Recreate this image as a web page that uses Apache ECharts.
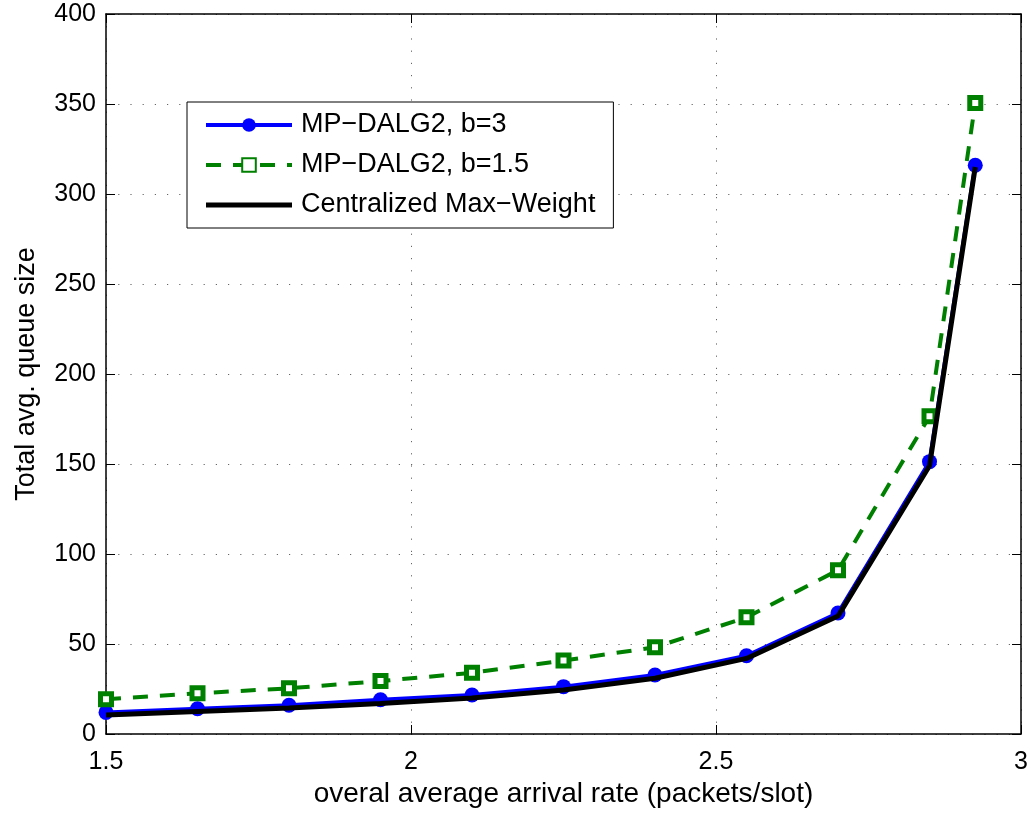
<!DOCTYPE html>
<html>
<head>
<meta charset="utf-8">
<script src="https://cdn.jsdelivr.net/npm/echarts@6/dist/echarts.min.js"></script>
<style>
html,body{margin:0;padding:0;background:#fff;}
#chart{width:1031px;height:814px;}
</style>
</head>
<body>
<div id="chart"></div>
<script>
var xValues = [1.5, 1.65, 1.8, 1.95, 2.1, 2.25, 2.4, 2.55, 2.7, 2.85, 2.925];
var dalgB3 = [12, 14, 16, 19, 21.7, 26.3, 32.8, 43.5, 67.2, 151.3, 316];
var dalgB15 = [19.3, 22.6, 25.4, 29.4, 34, 40.8, 48.2, 64.8, 91, 176.5, 350.5];
var maxWeight = [10.5, 12.5, 14.5, 17, 20, 24.5, 31, 42, 65.5, 149, 315];
var seriesNames = ['MP\u2212DALG2, b=3', 'MP\u2212DALG2, b=1.5', 'Centralized Max\u2212Weight'];
var xAxisTitle = 'overal average arrival rate (packets/slot)';
var yAxisTitle = 'Total avg. queue size';

function pairs(xs, ys) { return xs.map(function (x, i) { return [x, ys[i]]; }); }

var font = 'Liberation Sans, Arial, Helvetica, sans-serif';
var chart = echarts.init(document.getElementById('chart'), null, {renderer: 'canvas'});
var gridLine = {show: true, lineStyle: {color: '#666', width: 1, type: [1.2, 11]}};
var axisLineStyle = {show: true, onZero: false, lineStyle: {color: '#000', width: 1.5}};
var tick = {show: true, inside: true, length: 9, lineStyle: {color: '#000', width: 1}};
// plain thick line icon (thin invisible slivers at top/bottom keep the bar centred)
var blackLineIcon = 'path://M0,0L86,0L86,0.01L0,0.01Z M0,6H86V11H0Z M0,16.99L86,16.99L86,17L0,17Z';

chart.setOption({
  animation: false,
  backgroundColor: '#fff',
  grid: {left: 106, right: 10, top: 14, bottom: 80, containLabel: false},
  legend: {
    left: 187, top: 102,
    orient: 'vertical',
    backgroundColor: '#fff',
    borderColor: '#000', borderWidth: 1, borderRadius: 0,
    padding: [8, 18, 8, 17],
    itemWidth: 86, itemHeight: 17, itemGap: 10,
    lineStyle: {width: 'inherit'},
    textStyle: {fontFamily: font, fontSize: 27, color: '#000', lineHeight: 30, padding: [0, 0, 0, 4]},
    data: [
      {name: seriesNames[0]},
      {name: seriesNames[1]},
      {name: seriesNames[2], icon: blackLineIcon, itemStyle: {color: '#000', borderWidth: 0}}
    ]
  },
  xAxis: [{
    type: 'value', min: 1.5, max: 3, interval: 0.5,
    position: 'bottom',
    axisLine: axisLineStyle, axisTick: tick,
    axisLabel: {fontFamily: font, fontSize: 25, color: '#000', margin: 16},
    splitLine: gridLine,
    name: xAxisTitle, nameLocation: 'middle', nameGap: 41,
    nameTextStyle: {fontFamily: font, fontSize: 28, color: '#000'}
  }, {
    type: 'value', min: 1.5, max: 3, interval: 0.5,
    position: 'top',
    axisLine: axisLineStyle, axisTick: tick,
    axisLabel: {show: false}, splitLine: {show: false}
  }],
  yAxis: [{
    type: 'value', min: 0, max: 400, interval: 50,
    position: 'left',
    axisLine: axisLineStyle, axisTick: tick,
    axisLabel: {fontFamily: font, fontSize: 25, color: '#000', margin: 10},
    splitLine: gridLine,
    name: yAxisTitle, nameLocation: 'middle', nameGap: 66,
    nameTextStyle: {fontFamily: font, fontSize: 27, color: '#000'}
  }, {
    type: 'value', min: 0, max: 400, interval: 50,
    position: 'right',
    axisLine: axisLineStyle, axisTick: tick,
    axisLabel: {show: false}, splitLine: {show: false}
  }],
  series: [{
    name: seriesNames[0], type: 'line',
    data: pairs(xValues, dalgB3),
    z: 2,
    symbol: 'circle', symbolSize: 15,
    itemStyle: {color: '#0000ff'},
    lineStyle: {color: '#0000ff', width: 4}
  }, {
    name: seriesNames[1], type: 'line',
    data: pairs(xValues, dalgB15),
    z: 3,
    symbol: 'rect', symbolSize: 11,
    itemStyle: {color: '#ffffff', borderColor: '#008000', borderWidth: 5},
    lineStyle: {color: '#008000', width: 4, type: [15, 12]}
  }, {
    name: seriesNames[2], type: 'line',
    data: pairs(xValues, maxWeight),
    z: 4,
    symbol: 'none',
    itemStyle: {color: '#000'},
    lineStyle: {color: '#000', width: 5}
  }]
});
</script>
</body>
</html>
